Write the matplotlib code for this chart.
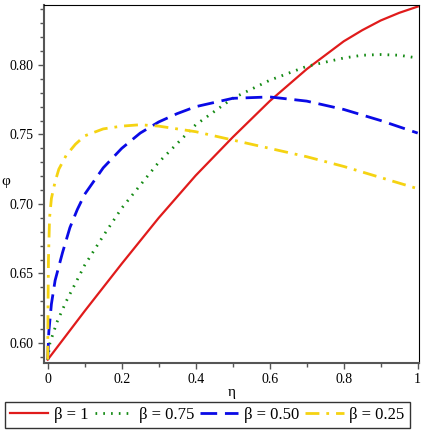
import numpy as np
import matplotlib
matplotlib.use("Agg")
import matplotlib.pyplot as plt
from matplotlib.ticker import MultipleLocator

plt.rcParams['font.family'] = ['Liberation Serif', 'DejaVu Serif']

# curves (eta, value)
eta_b100 = [0, 0.1, 0.2, 0.3, 0.4, 0.5, 0.6, 0.7, 0.8, 0.85, 0.9, 0.95, 1.0]
val_b100 = [0.588, 0.623, 0.657, 0.690, 0.7205, 0.748, 0.774, 0.797, 0.817, 0.825, 0.832, 0.8375, 0.842]

eta_b075 = [0, 0.006, 0.025, 0.05, 0.1, 0.15, 0.2, 0.3, 0.4, 0.5, 0.6, 0.7, 0.8, 0.85, 0.9, 0.95, 1.0]
val_b075 = [0.588, 0.600, 0.615, 0.630, 0.656, 0.677, 0.697, 0.730, 0.757, 0.776, 0.789, 0.799, 0.805, 0.807, 0.8075, 0.807, 0.805]

eta_b050 = [0, 0.003, 0.01, 0.02, 0.04, 0.06, 0.08, 0.1, 0.15, 0.2, 0.25, 0.3, 0.35, 0.4, 0.5, 0.6, 0.7, 0.8, 0.9, 1.0]
val_b050 = [0.588, 0.608, 0.628, 0.645, 0.665, 0.683, 0.696, 0.707, 0.726, 0.740, 0.751, 0.759, 0.765, 0.770, 0.776, 0.777, 0.774, 0.768, 0.760, 0.751]

eta_b025 = [0, 0.001, 0.002, 0.005, 0.01, 0.02, 0.03, 0.05, 0.075, 0.1, 0.15, 0.2, 0.25, 0.3, 0.4, 0.5, 0.6, 0.7, 0.8, 0.9, 1.0]
val_b025 = [0.588, 0.630, 0.660, 0.690, 0.704, 0.716, 0.725, 0.735, 0.743, 0.749, 0.754, 0.756, 0.757, 0.756, 0.752, 0.746, 0.740, 0.734, 0.727, 0.719, 0.711]

labels = ["β = 1", "β = 0.75", "β = 0.50", "β = 0.25"]

fig = plt.figure(figsize=(4.24, 4.32), dpi=100)
ax = fig.add_axes([0.1038, 0.1597, 0.884, 0.8283])

ax.plot(eta_b100, val_b100, color="#e01b1b", lw=1.6, label=labels[0])
ax.plot(eta_b075, val_b075, color="#138a13", lw=2.0, linestyle=(0, (0.6, 2.2)), label=labels[1])
ax.plot(eta_b050, val_b050, color="#0a0ae6", lw=2.0, linestyle=(0, (6, 2.8)), label=labels[2])
ax.plot(eta_b025, val_b025, color="#f5d312", lw=2.0, linestyle=(0, (5, 2.5, 1, 2.5)), label=labels[3])

ax.set_xlim(-0.01, 1.003)
ax.set_ylim(0.5856, 0.843)
ax.xaxis.set_major_locator(MultipleLocator(0.2))
ax.xaxis.set_minor_locator(MultipleLocator(0.1))
ax.yaxis.set_major_locator(MultipleLocator(0.05))
ax.yaxis.set_minor_locator(MultipleLocator(0.01))
ax.xaxis.set_major_formatter(plt.FuncFormatter(lambda v, p: "0" if abs(v) < 1e-9 else ("1" if abs(v - 1) < 1e-9 else f"{v:.1f}")))
ax.yaxis.set_major_formatter(plt.FuncFormatter(lambda v, p: f"{v:.2f}"))
ax.tick_params(which="both", direction="out", labelsize=10, colors="#555555", labelcolor="black")
ax.tick_params(which="major", length=4, width=1)
ax.tick_params(which="minor", length=3, width=1)
for s in ["left", "bottom"]:
    ax.spines[s].set_color("#555555")
    ax.spines[s].set_linewidth(1.5)

ax.set_xlabel("η", fontsize=11, labelpad=0)
ax.set_ylabel("φ", fontsize=11, rotation=0)
ax.yaxis.set_label_coords(-0.103, 0.49)

leg = fig.legend(loc="lower left", bbox_to_anchor=(0.012, 0.009), ncol=4, fontsize=12,
                 frameon=True, fancybox=False, edgecolor="black", handlelength=2.3,
                 handletextpad=0.35, columnspacing=0.35, borderpad=0.3, borderaxespad=0)
leg.get_frame().set_linewidth(1.0)

fig.savefig("out.png", dpi=100)
